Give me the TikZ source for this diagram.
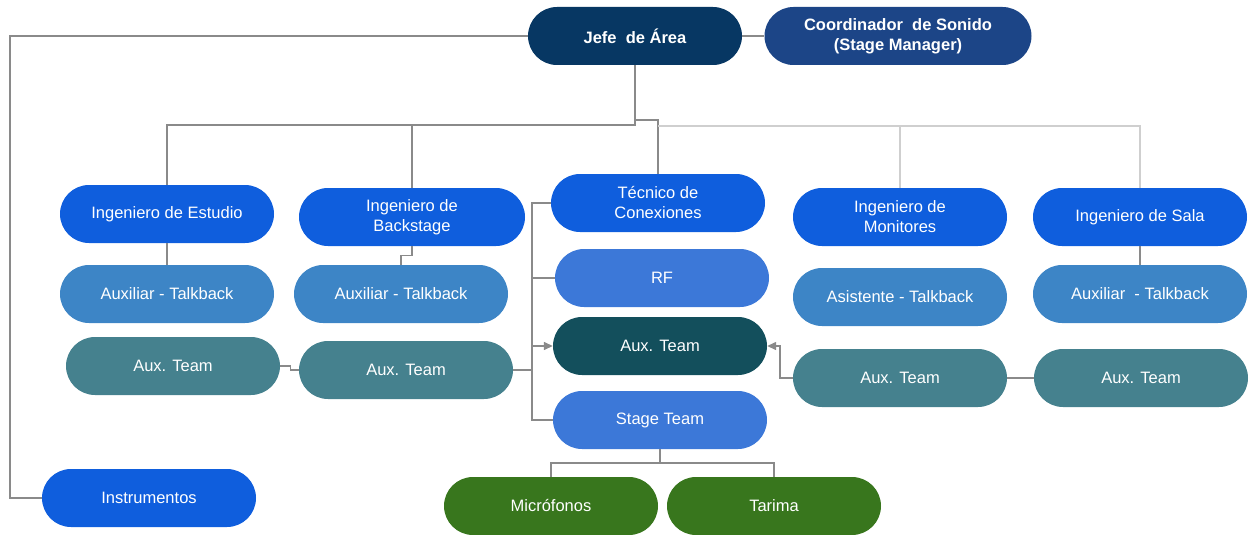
\documentclass[tikz,border=0pt]{standalone}
\usepackage{fontspec}
\setmainfont{Liberation Sans}
\usetikzlibrary{arrows.meta}
\definecolor{cJefe}{HTML}{073763}
\definecolor{cCoord}{HTML}{1C4587}
\definecolor{cIng}{HTML}{0F5EDD}
\definecolor{cAux}{HTML}{3D85C6}
\definecolor{cRF}{HTML}{3C78D8}
\definecolor{cTeam}{HTML}{45818E}
\definecolor{cTeamD}{HTML}{134F5C}
\definecolor{cGreen}{HTML}{38761D}
\definecolor{cLine}{HTML}{8A8A8A}
\definecolor{cLineL}{HTML}{CFCFCF}
\tikzset{
  pill/.style={rectangle, rounded corners=29pt, minimum width=214pt, minimum height=58pt,
    text=white, align=center, inner sep=2pt,
    font=\fontsize{16.5}{20}\selectfont},
  boldpill/.style={pill, font=\fontsize{16.5}{20}\selectfont\bfseries},
  conn/.style={draw=cLine, line width=1.4pt},
  connl/.style={draw=cLineL, line width=1.4pt},
  arr/.style={conn, -{Triangle[length=9pt,width=8pt]}},
}
\begin{document}
\begin{tikzpicture}[x=1pt,y=-1pt]
\useasboundingbox (0,0) rectangle (1251,535);
% nodes
\node[boldpill, fill=cJefe] (jefe) at (635,36) {Jefe\ \ de Área};
\node[boldpill, fill=cCoord, minimum width=267pt] (coord) at (898,36) {Coordinador\ \ de Sonido\\(Stage Manager)};
\node[pill, fill=cIng] (estudio) at (167,214) {Ingeniero de Estudio};
\node[pill, fill=cIng, minimum width=226pt] (backstage) at (412,217) {Ingeniero de\\Backstage};
\node[pill, fill=cIng] (tecnico) at (658,203) {Técnico de\\Conexiones};
\node[pill, fill=cIng] (monitores) at (900,217) {Ingeniero de\\Monitores};
\node[pill, fill=cIng] (sala) at (1140,217) {Ingeniero de Sala};
\node[pill, fill=cAux] (aux1) at (167,294) {Auxiliar - Talkback};
\node[pill, fill=cAux] (aux2) at (401,294) {Auxiliar - Talkback};
\node[pill, fill=cRF] (rf) at (662,278) {RF};
\node[pill, fill=cAux] (asis) at (900,297) {Asistente - Talkback};
\node[pill, fill=cAux] (aux3) at (1140,294) {Auxiliar\ \ - Talkback};
\node[pill, fill=cTeam] (team1) at (173,366) {Aux. Team};
\node[pill, fill=cTeam] (team2) at (406,370) {Aux. Team};
\node[pill, fill=cTeamD] (teamc) at (660,346) {Aux. Team};
\node[pill, fill=cTeam] (team4) at (900,378) {Aux. Team};
\node[pill, fill=cTeam] (team5) at (1141,378) {Aux. Team};
\node[pill, fill=cRF] (stage) at (660,420) {Stage Team};
\node[pill, fill=cIng] (instr) at (149,498) {Instrumentos};
\node[pill, fill=cGreen] (micro) at (551,506) {Micrófonos};
\node[pill, fill=cGreen] (tarima) at (774,506) {Tarima};
% coordinates
\coordinate (jl) at (10,36);
\coordinate (j1) at (635,125);
\coordinate (j2) at (635,120);
\coordinate (j3) at (658,126);
\coordinate (bus) at (532,203);
\coordinate (st) at (660,463);
% connectors
\path[conn] (jefe.west) -- (jl) |- (instr.west);
\path[conn] (jefe.east) -- (coord.west);
\path[conn] (jefe.south) -- (j1) -| (estudio.north);
\path[conn] (backstage.north |- j1) -- (backstage.north);
\path[conn] (j2) -| (tecnico.north);
\path[connl] (j3) -| (sala.north);
\path[connl] (monitores.north |- j3) -- (monitores.north);
\path[conn] (estudio.south) -- (aux1.north);
\path[conn] (backstage.south) -- ++(0,9) -| (aux2.north);
\path[conn] (team1.east) -- ++(10,0) |- (team2.west);
\path[conn] (tecnico.west) -- (bus) |- (stage.west);
\path[conn] (bus |- rf.west) -- (rf.west);
\path[arr] (bus |- teamc.west) -- (teamc.west);
\path[conn] (team2.east) -- (bus |- team2.east);
\path[arr] (team4.west) -- ++(-13,0) |- (teamc.east);
\path[conn] (team4.east) -- (team5.west);
\path[conn] (sala.south) -- (aux3.north);
\path[conn] (stage.south) -- (st);
\path[conn] (micro.north) |- (st) -| (tarima.north);
\end{tikzpicture}
\end{document}
